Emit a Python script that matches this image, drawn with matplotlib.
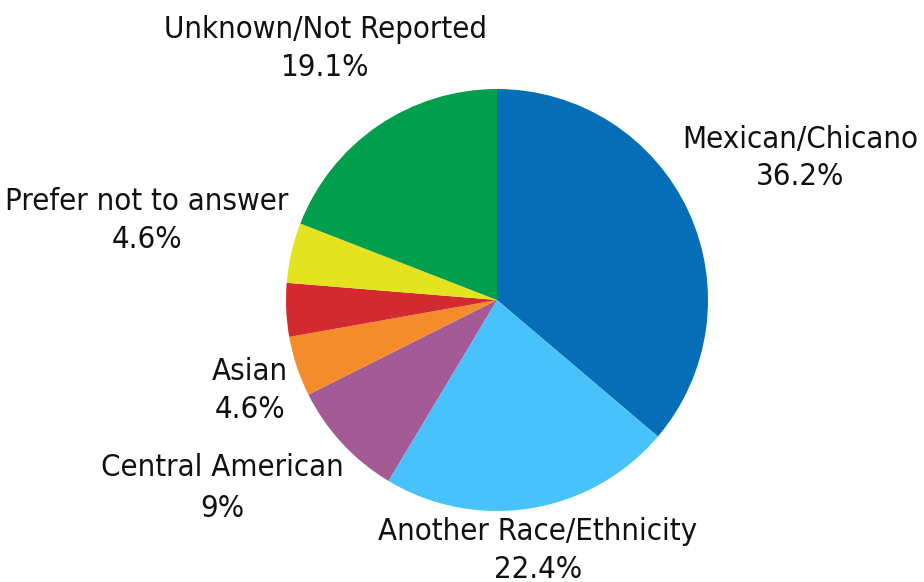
import matplotlib.pyplot as plt
from matplotlib import font_manager

categories = ["Mexican/Chicano", "Another Race/Ethnicity", "Central American",
              "Asian", "", "Prefer not to answer", "Unknown/Not Reported"]
shares = [36.2, 22.4, 9.0, 4.6, 4.1, 4.6, 19.1]
pct_labels = ["36.2%", "22.4%", "9%", "4.6%", "", "4.6%", "19.1%"]
colors = ["#066EB7", "#48C2FA", "#A45A95", "#F58C2C", "#D12A30", "#E3E41F", "#009E4D"]

# where each label sits, relative to pie centre (radius = 1)
label_pos = [(1.436, 0.673), (0.194, -1.185), (-1.303, -0.891),
             (-1.171, -0.427), None, (-1.659, 0.379), (-0.815, 1.194)]

# the reference uses a condensed gothic, DejaVu condensed is the closest here
font_file = None
for f in font_manager.fontManager.ttflist:
    if f.fname.endswith("DejaVuSansCondensed.ttf"):
        font_file = f.fname
        break

fig = plt.figure(figsize=(9.24, 5.82), dpi=100)
w = 422 / 924
h = 422 / 582
cx, cy = 497 / 924, 1 - 300 / 582
ax = fig.add_axes([cx - w / 2, cy - h / 2, w, h])

ax.pie(shares, colors=colors, startangle=90, counterclock=False,
       wedgeprops=dict(linewidth=0))
ax.set_xlim(-1, 1)
ax.set_ylim(-1, 1)
ax.set_aspect("equal")

if font_file:
    fp = font_manager.FontProperties(fname=font_file, size=22.3)
else:
    fp = font_manager.FontProperties(family="DejaVu Sans", size=20)

for name, pct, pos in zip(categories, pct_labels, label_pos):
    if pos is None:
        continue
    spacing = 1.53 if name == "Central American" else 1.39
    ax.text(pos[0], pos[1], name + "\n" + pct, ha="center", va="center",
            fontproperties=fp, linespacing=spacing, color="#111111",
            clip_on=False)

fig.savefig("out.png", dpi=100)
